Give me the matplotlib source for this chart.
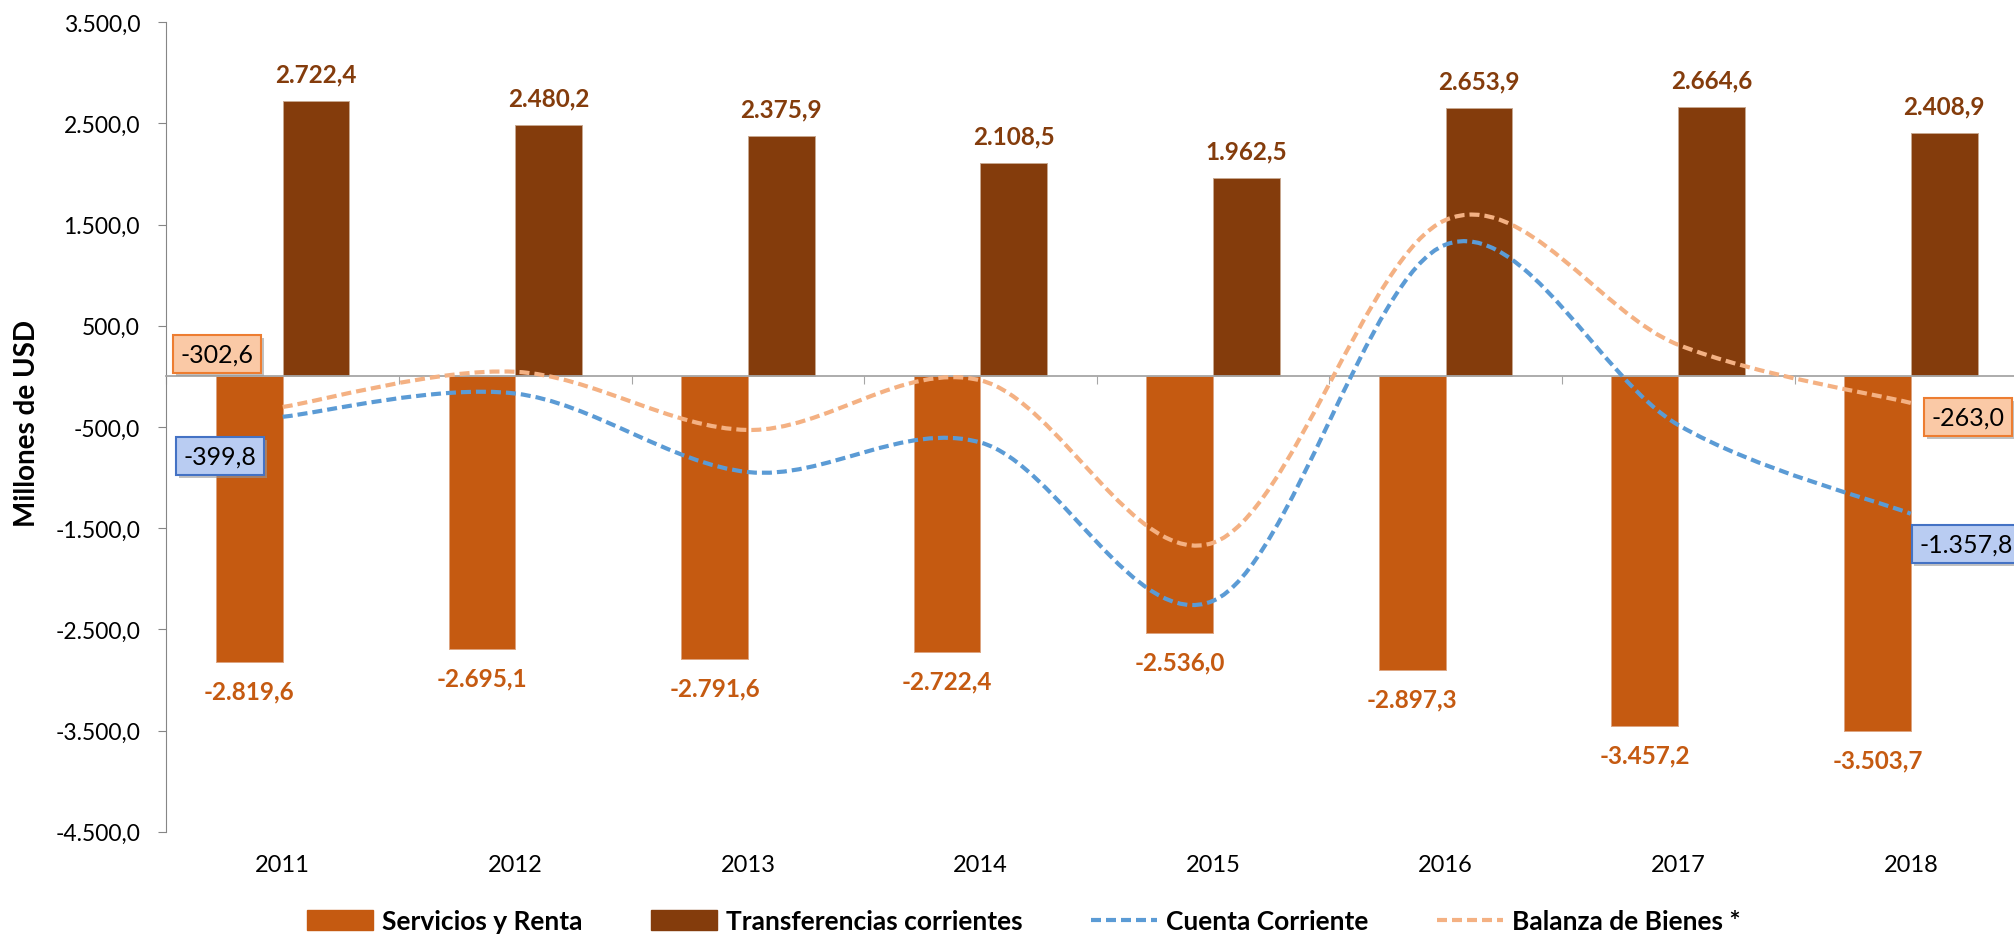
import matplotlib
matplotlib.use("Agg")
import matplotlib.pyplot as plt
import matplotlib.patheffects as pe
from matplotlib.path import Path
from matplotlib.patches import PathPatch, Patch
from matplotlib.lines import Line2D
import numpy as np

plt.rcParams['font.family'] = ['Lato', 'DejaVu Sans']

# datos (millones de USD)
years = ['2011', '2012', '2013', '2014', '2015', '2016', '2017', '2018']
servicios = [-2819.6, -2695.1, -2791.6, -2722.4, -2536.0, -2897.3, -3457.2, -3503.7]
transferencias = [2722.4, 2480.2, 2375.9, 2108.5, 1962.5, 2653.9, 2664.6, 2408.9]
cuenta = [-399.8, -170.0, -945.7, -653.9, -2218.5, 1301.6, -480.6, -1357.8]
bienes = [-302.6, 45.0, -530.0, -40.0, -1645.0, 1545.0, 312.0, -263.0]

c_serv = '#C55A11'
c_trans = '#843C0C'
c_cuenta = '#5B9BD5'
c_bienes = '#F4B183'


def fmt(v):
    s = '{:,.1f}'.format(v)
    return s.replace(',', 'X').replace('.', ',').replace('X', '.')


def smooth_path(xs, ys):
    # curva suavizada tipo Excel (bezier por segmentos)
    pts = np.column_stack([xs, ys]).astype(float)
    n = len(pts)
    verts = [pts[0]]
    codes = [Path.MOVETO]
    for i in range(n - 1):
        p0 = pts[i - 1] if i > 0 else pts[i]
        p3 = pts[i + 2] if i + 2 < n else pts[i + 1]
        c1 = pts[i] + (pts[i + 1] - p0) / 6.0
        c2 = pts[i + 1] - (p3 - pts[i]) / 6.0
        verts += [c1, c2, pts[i + 1]]
        codes += [Path.CURVE4] * 3
    return Path(verts, codes)


fig = plt.figure(figsize=(20.15, 9.37), dpi=100)
ax = fig.add_axes([0.0826, 0.1113, 0.9234, 0.864])

x = np.arange(len(years))
w = 0.287
ax.bar(x - w / 2, servicios, w, color=c_serv, edgecolor='#DDA480', linewidth=0.7, zorder=2)
ax.bar(x + w / 2, transferencias, w, color=c_trans, edgecolor='#C8A890', linewidth=0.7, zorder=2)

dash = (0, (2.4, 1.2))
for vals, col in [(bienes, c_bienes), (cuenta, c_cuenta)]:
    ax.add_patch(PathPatch(smooth_path(x, vals), fill=False, edgecolor=col,
                           linewidth=3, linestyle=dash, zorder=3))

# etiquetas de barras
for xi, v in zip(x, transferencias):
    ax.annotate(fmt(v), (xi + w / 2, v), xytext=(0, 19.5), textcoords='offset points',
                ha='center', va='center', fontsize=17.5, fontweight='bold', color=c_trans)
for xi, v in zip(x, servicios):
    ax.annotate(fmt(v), (xi - w / 2, v), xytext=(0, -21), textcoords='offset points',
                ha='center', va='center', fontsize=17.5, fontweight='bold', color=c_serv)

# etiquetas de las lineas
shadow = [pe.withSimplePatchShadow(offset=(2, -2), shadow_rgbFace='0.6', alpha=0.6)]
box_or = dict(boxstyle='square,pad=0.3', fc='#FAC9A6', ec='#ED7D31', lw=1.5)
box_bl = dict(boxstyle='square,pad=0.3', fc='#B9CCF2', ec='#4472C4', lw=1.5)
labs = [
    (0, bienes[0], (-47.5, 37.9), 'center', box_or),
    (0, cuenta[0], (-45, -28.4), 'center', box_bl),
    (7, bienes[7], (15, -10.4), 'left', box_or),
    (7, cuenta[7], (6, -22), 'left', box_bl),
]
for xi, v, off, ha, box in labs:
    t = ax.annotate(fmt(v), (xi, v), xytext=off, textcoords='offset points', ha=ha,
                    va='center', fontsize=18, color='black', bbox=box, zorder=5,
                    annotation_clip=False)
    t.get_bbox_patch().set_path_effects(shadow)

# ejes
ax.set_xlim(-0.5, 7.5)
ax.set_ylim(-4500, 3500)
ax.set_yticks(np.arange(-4500, 3501, 1000))
ax.set_yticklabels([fmt(v) for v in np.arange(-4500, 3501, 1000)])
ax.tick_params(axis='y', direction='out', length=6, color='#868686', labelsize=16.5, pad=13)
ax.spines['left'].set_color('#868686')
ax.spines['top'].set_visible(False)
ax.spines['right'].set_visible(False)
ax.spines['bottom'].set_position(('data', 0))
ax.spines['bottom'].set_color('#A6A6A6')
ax.spines['bottom'].set_linewidth(1.3)
ax.set_xticks(np.arange(-0.5, 8, 1))
ax.set_xticklabels([])
ax.tick_params(axis='x', direction='out', length=6, color='#A6A6A6')

sec = ax.secondary_xaxis(0)
sec.set_xticks(x, years)
sec.tick_params(length=0, labelsize=17, pad=16)
sec.spines['bottom'].set_visible(False)

fig.text(0.0134, 0.5475, 'Millones de USD', rotation=90, ha='center', va='center',
         fontsize=20, fontweight='bold')

handles = [Patch(color=c_serv), Patch(color=c_trans),
           Line2D([], [], color=c_cuenta, lw=3, ls=dash),
           Line2D([], [], color=c_bienes, lw=3, ls=dash)]
names = ['Servicios y Renta', 'Transferencias corrientes', 'Cuenta Corriente', 'Balanza de Bienes *']
leg = fig.legend(handles, names, loc='center', bbox_to_anchor=(0.508, 0.016), ncol=4,
                 frameon=False, prop={'weight': 'bold', 'size': 19},
                 handlelength=2.5, handleheight=0.76, handletextpad=0.34, columnspacing=2.6)

fig.savefig('out.png', dpi=100)
